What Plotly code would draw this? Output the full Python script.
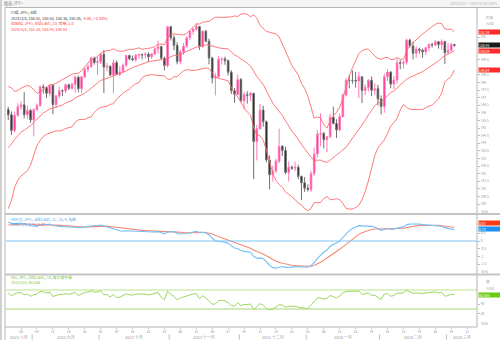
import pandas as pd
import plotly.graph_objects as go

# ---------------------------------------------------------------
# USD/JPY daily bars (Bid), 2023-08-22 .. 2024-03-05
# ---------------------------------------------------------------
dates = pd.bdate_range("2023-08-22", "2024-03-05")

open_ = [
    146.22, 145.88, 144.84, 145.84, 146.41, 146.53, 145.88, 146.16,
    145.54, 146.22, 146.49, 147.72, 147.67, 147.29, 147.82, 146.56, 147.12, 147.46, 147.45,
    147.85, 147.62, 147.87, 148.35, 147.60, 148.38, 148.88, 149.06, 149.62, 149.32,
    149.37, 149.86, 149.02, 149.07, 148.50, 149.31, 148.54, 148.70, 149.14, 149.78, 149.57,
    149.50, 149.80, 149.85, 149.82, 149.87, 149.70, 149.88, 150.22, 150.37, 149.60, 149.12,
    151.68, 150.95, 150.45, 149.38, 150.03, 150.40, 150.95, 151.36, 151.52, 151.69, 150.38,
    151.38, 150.72, 149.62, 148.30, 148.38, 149.54, 149.56, 149.44, 148.68, 147.46, 147.22,
    148.20, 146.80, 147.20, 147.16, 147.29, 144.11, 144.95, 146.19, 145.42, 142.90, 141.92,
    142.17, 142.83, 143.80, 143.53, 142.08, 142.42, 142.36, 142.42, 141.82, 141.40,
    141.04, 140.95, 142.01, 143.30, 144.60, 144.64, 144.24, 144.43, 145.72, 145.30, 144.88,
    145.76, 147.18, 148.15, 148.14, 148.14, 148.10, 148.38, 147.48, 147.67, 148.15, 147.49,
    147.60,
    146.92, 146.42, 148.38, 148.69, 147.90, 148.17, 149.30, 149.27, 149.35, 150.80, 150.41,
    149.93, 150.20, 150.13, 150.02, 150.30, 150.51, 150.48, 150.69, 150.50, 150.70,
    149.97, 150.12, 150.51,
]
high = [
    146.40, 146.10, 146.10, 146.64, 146.75, 147.37, 146.48, 146.27,
    146.30, 146.62, 147.80, 147.87, 147.74, 147.88, 147.87, 147.20, 147.74, 147.55, 147.94,
    147.92, 148.00, 148.47, 148.46, 148.43, 148.97, 149.18, 149.71, 149.71, 149.69,
    149.91, 150.16, 149.29, 149.14, 149.53, 149.46, 149.07, 149.26, 149.83, 149.85, 149.78,
    149.88, 149.90, 149.90, 150.00, 150.00, 149.95, 150.32, 150.77, 150.42, 149.70, 151.72,
    151.72, 151.12, 150.65, 150.17, 150.60, 151.05, 151.43, 151.60, 151.92, 151.72, 151.43,
    151.47, 150.90, 149.70, 148.62, 149.75, 149.66, 149.70, 149.51, 148.81, 147.64, 148.52,
    148.30, 147.38, 147.43, 147.39, 147.32, 145.22, 146.59, 146.47, 145.50, 143.20, 142.51,
    142.98, 144.96, 143.88, 143.77, 142.80, 142.54, 142.78, 142.59, 141.87, 141.78,
    141.30, 142.20, 143.72, 144.86, 145.98, 144.75, 144.46, 145.94, 146.41, 145.58, 145.97,
    147.28, 148.28, 148.51, 148.80, 148.70, 148.70, 148.40, 147.88, 148.22, 148.40, 147.96,
    147.85,
    147.15, 148.58, 148.89, 148.75, 148.44, 149.58, 149.48, 149.44, 150.89, 150.88, 150.70,
    150.39, 150.30, 150.25, 150.34, 150.58, 150.62, 150.80, 150.72, 150.84, 150.75,
    150.60, 150.61, 150.54,
]
low = [
    145.52, 144.54, 144.70, 145.74, 146.20, 145.64, 145.61, 145.34,
    144.45, 146.13, 146.42, 147.28, 146.99, 147.08, 145.91, 146.32, 146.96, 147.11, 147.29,
    147.50, 147.53, 147.33, 147.36, 147.33, 148.29, 148.67, 148.96, 149.18, 148.52,
    149.22, 147.31, 148.73, 148.45, 147.29, 148.52, 148.40, 148.68, 149.04, 149.47, 149.43,
    149.37, 149.57, 149.52, 149.58, 149.38, 149.55, 149.82, 149.90, 149.53, 148.80, 149.00,
    150.76, 150.13, 149.20, 149.20, 149.83, 150.30, 150.80, 151.15, 151.40, 150.15, 150.30,
    150.65, 149.20, 147.94, 147.15, 148.33, 149.18, 149.17, 148.46, 147.25, 146.67, 147.16,
    146.68, 146.23, 146.61, 146.78, 141.64, 142.87, 144.92, 145.09, 142.75, 140.97, 141.47,
    142.04, 142.68, 143.16, 141.96, 141.48, 142.24, 142.15, 141.63, 140.25, 140.80,
    140.82, 140.80, 141.85, 143.06, 143.80, 143.66, 143.42, 144.34, 145.26, 144.34, 144.80,
    145.70, 147.08, 147.62, 147.93, 147.67, 146.98, 146.65, 147.18, 147.40, 147.10, 147.20,
    146.49,
    145.90, 146.02, 148.10, 147.63, 147.57, 147.93, 148.88, 148.92, 149.18, 150.30, 149.53,
    149.63, 149.90, 149.63, 149.82, 150.07, 150.30, 150.38, 150.23, 150.15, 149.21,
    149.91, 150.05, 150.36,
]
close = [
    145.88, 144.84, 145.84, 146.41, 146.53, 145.88, 146.16, 145.54,
    146.22, 146.49, 147.72, 147.67, 147.29, 147.82, 146.56, 147.12, 147.46, 147.45, 147.85,
    147.62, 147.87, 148.35, 147.60, 148.38, 148.88, 149.06, 149.62, 149.32, 149.37,
    149.86, 149.02, 149.07, 148.50, 149.31, 148.54, 148.70, 149.14, 149.78, 149.57, 149.50,
    149.80, 149.85, 149.82, 149.87, 149.70, 149.88, 150.22, 150.37, 149.60, 149.12, 151.68,
    150.95, 150.45, 149.38, 150.03, 150.40, 150.95, 151.36, 151.52, 151.69, 150.38, 151.38,
    150.72, 149.62, 148.30, 148.38, 149.54, 149.56, 149.44, 148.68, 147.46, 147.22, 148.20,
    146.80, 147.20, 147.16, 147.29, 144.11, 144.95, 146.19, 145.42, 142.90, 141.92, 142.17,
    142.83, 143.80, 143.53, 142.08, 142.42, 142.36, 142.42, 141.82, 141.40, 141.04,
    140.95, 142.01, 143.30, 144.60, 144.64, 144.24, 144.43, 145.72, 145.30, 144.88, 145.76,
    147.18, 148.15, 148.14, 148.14, 148.10, 148.38, 147.48, 147.67, 148.15, 147.49, 147.60,
    146.92,
    146.42, 148.38, 148.69, 147.90, 148.17, 149.30, 149.27, 149.35, 150.80, 150.41, 149.93,
    150.20, 150.13, 150.02, 150.30, 150.51, 150.48, 150.69, 150.50, 150.70, 149.97,
    150.12, 150.51, 150.45,
]

# closes from 2023-06-01 .. 2023-08-21, only used to warm up the indicators
prior_close = [
    138.80, 139.95, 139.60, 139.60, 140.10, 139.00, 139.40, 139.60, 140.20, 140.00, 140.30,
    141.80, 141.90, 141.50, 141.90, 143.10, 143.70, 143.40, 144.00, 144.40, 144.80, 144.30,
    144.70, 144.50, 144.70, 144.10, 142.10, 141.30, 140.40, 138.50, 138.10, 138.80, 138.70,
    139.20, 139.70, 140.10, 141.80, 141.50, 140.90, 140.20, 139.40, 141.20, 142.30,
    143.30, 143.30, 142.60, 141.80, 142.50, 143.30, 143.80, 144.70, 144.90, 145.60, 145.60,
    146.40, 145.80, 145.40, 146.20,
]

assert len(dates) == len(open_) == len(high) == len(low) == len(close)

# value-axis labels (the ones sitting under the last-value boxes are left out)
price_ticks = [140, 140.5, 141, 141.5, 142, 142.5, 143, 143.5, 144, 144.5, 145, 145.5,
               146, 146.5, 147, 147.5, 148, 148.5, 149.5, 151]
macd_ticks = [-1.5, -1.0, -0.5, 0, 0.5]
rsi_ticks = [20, 40]
month_names = {
    (2023, 8): "2023 八月", (2023, 9): "2023 九月", (2023, 10): "2023 十月",
    (2023, 11): "2023 十一月", (2023, 12): "2023 十二月", (2024, 1): "2024 一月",
    (2024, 2): "2024 二月", (2024, 3): "2024 三月",
}

# ---------------------------------------------------------------
# indicators
# ---------------------------------------------------------------
n_prior = len(prior_close)
series = pd.Series(prior_close + close)

bb_mid = series.rolling(20).mean()
bb_sd = series.rolling(20).std(ddof=0)
bb_up = bb_mid + 2.0 * bb_sd
bb_lo = bb_mid - 2.0 * bb_sd

ema12 = series.ewm(span=12, adjust=False).mean()
ema26 = series.ewm(span=26, adjust=False).mean()
macd = ema12 - ema26
signal = macd.ewm(span=9, adjust=False).mean()

delta = series.diff()
gain = delta.clip(lower=0)
loss = -delta.clip(upper=0)
avg_gain = gain.ewm(alpha=1 / 14, adjust=False).mean()
avg_loss = loss.ewm(alpha=1 / 14, adjust=False).mean()
rsi = 100 - 100 / (1 + avg_gain / avg_loss)

bb_mid, bb_up, bb_lo = (s.iloc[n_prior:].values for s in (bb_mid, bb_up, bb_lo))
macd, signal, rsi = (s.iloc[n_prior:].values for s in (macd, signal, rsi))

# ---------------------------------------------------------------
# layout helpers (pixel -> paper for a 500x340 canvas)
# ---------------------------------------------------------------
W, H = 500, 340


def px(x):
    return x / W


def py(y):
    return 1 - y / H


FONT = "Noto Sans CJK SC, Noto Sans, sans-serif"
UP_FILL, UP_LINE = "#ff1c8a", "#ff78b8"
DN_FILL, DN_LINE = "#111111", "#707070"
BB_COL = "#ff6a6a"
MACD_COL, SIG_COL = "#74bff3", "#f58a78"
RSI_COL = "#9bd65c"

x_range = [pd.Timestamp("2023-08-21 07:00"), pd.Timestamp("2024-03-14 02:00")]
x_domain = [px(6), px(477)]

fig = go.Figure()

fig.add_trace(go.Candlestick(
    x=dates, open=open_, high=high, low=low, close=close,
    increasing=dict(line=dict(color=UP_LINE, width=1), fillcolor=UP_FILL),
    decreasing=dict(line=dict(color=DN_LINE, width=1), fillcolor=DN_FILL),
    whiskerwidth=0, xaxis="x", yaxis="y", hoverinfo="skip",
))
for band in (bb_up, bb_mid, bb_lo):
    fig.add_trace(go.Scatter(x=dates, y=band, mode="lines",
                             line=dict(color=BB_COL, width=0.9),
                             xaxis="x", yaxis="y", hoverinfo="skip"))

fig.add_trace(go.Scatter(x=dates, y=signal, mode="lines",
                         line=dict(color=SIG_COL, width=1.1), xaxis="x2", yaxis="y2"))
fig.add_trace(go.Scatter(x=dates, y=macd, mode="lines",
                         line=dict(color=MACD_COL, width=1.1), xaxis="x2", yaxis="y2"))
fig.add_trace(go.Scatter(x=dates, y=rsi, mode="lines",
                         line=dict(color=RSI_COL, width=1), xaxis="x3", yaxis="y3"))

breaks = [dict(bounds=["sat", "mon"])]
mondays = pd.date_range("2023-08-28", "2024-03-11", freq="W-MON")
common_x = dict(range=x_range, domain=x_domain, rangebreaks=breaks,
                showgrid=False, zeroline=False, showline=False, fixedrange=True)
axis_font = dict(size=3.3, color="#999999")
common_y = dict(side="right", ticks="outside", ticklen=2, tickcolor="#bbbbbb",
                tickfont=axis_font, showgrid=False, zeroline=False, fixedrange=True)

fig.update_layout(
    width=W, height=H, margin=dict(l=0, r=0, t=0, b=0),
    paper_bgcolor="white", plot_bgcolor="white", showlegend=False,
    font=dict(family=FONT, size=4, color="#999999"),
    xaxis=dict(**common_x, showticklabels=False, rangeslider=dict(visible=False)),
    xaxis2=dict(**common_x, showticklabels=False, matches="x", anchor="y2"),
    xaxis3=dict(**common_x, matches="x", anchor="y3",
                tickvals=list(mondays), ticktext=[d.strftime("%d") for d in mondays],
                ticks="outside", ticklen=1, tickcolor="#bbbbbb", ticklabelstandoff=0,
                tickfont=dict(size=3.3, color="#999999")),
    yaxis=dict(**common_y, domain=[py(213), py(12)], range=[139.407, 152.648], anchor="x",
               tickvals=price_ticks, ticktext=[f"{v:g}" for v in price_ticks]),
    yaxis2=dict(**common_y, domain=[py(274), py(215)], range=[-2.143, 1.688], anchor="x2",
                tickvals=macd_ticks, ticktext=[f"{v:g}" for v in macd_ticks]),
    yaxis3=dict(**common_y, domain=[py(327), py(275)], range=[-7.89, 101.58], anchor="x3",
                tickvals=rsi_ticks, ticktext=[str(v) for v in rsi_ticks]),
)

shapes = []
# header strip and frame
shapes.append(dict(type="rect", xref="paper", yref="paper", x0=0, x1=1, y0=py(7), y1=1,
                   fillcolor="#f5f5f5", line=dict(width=0), layer="below"))
shapes.append(dict(type="line", xref="paper", yref="paper", x0=px(5), x1=1, y0=py(7.5), y1=py(7.5),
                   line=dict(color="#b5b5b5", width=1)))
shapes.append(dict(type="line", xref="paper", yref="paper", x0=px(5), x1=px(5), y0=py(340), y1=py(7.5),
                   line=dict(color="#b5b5b5", width=1)))
shapes.append(dict(type="line", xref="paper", yref="paper", x0=px(1), x1=px(1), y0=0, y1=1,
                   line=dict(color="#d0d0d0", width=2)))
# right axis line
shapes.append(dict(type="line", xref="paper", yref="paper", x0=px(477), x1=px(477), y0=py(327), y1=py(7.5),
                   line=dict(color="#b5b5b5", width=1)))
# pane separators
for yy in (214, 274.5):
    shapes.append(dict(type="line", xref="paper", yref="paper", x0=px(5), x1=1, y0=py(yy), y1=py(yy),
                       line=dict(color="#c4c4c4", width=2)))
shapes.append(dict(type="line", xref="paper", yref="paper", x0=px(5), x1=px(477), y0=py(327), y1=py(327),
                   line=dict(color="#b5b5b5", width=1)))
# MACD zero line, RSI guide lines
shapes.append(dict(type="line", xref="x2 domain", yref="y2", x0=0, x1=1, y0=0, y1=0,
                   line=dict(color="#7fc3f5", width=1)))
shapes.append(dict(type="line", xref="x3 domain", yref="y3", x0=0, x1=1, y0=70, y1=70,
                   line=dict(color="#dcf2c6", width=2.2), layer="below"))
shapes.append(dict(type="line", xref="x3 domain", yref="y3", x0=0, x1=1, y0=30, y1=30,
                   line=dict(color="#a3d874", width=1)))

# month row: labels centred on each month's visible trading days, separators between months
axis_days = pd.bdate_range("2023-08-22", "2024-03-14")
annotations = []
months = sorted({(d.year, d.month) for d in axis_days})
for ym in months:
    days = [d for d in axis_days if (d.year, d.month) == ym]
    k = (len(days) - 1) / 2
    centre = days[int(k)] + pd.Timedelta(hours=12 if k % 1 else 0)
    annotations.append(dict(x=centre, y=py(337.2), xref="x", yref="paper", text=month_names[ym],
                            showarrow=False, font=dict(size=4.0, color="#999999"),
                            xanchor="center", yanchor="middle", borderpad=0))
    first_idx = list(axis_days).index(days[0])
    if first_idx > 0:
        sep = axis_days[first_idx - 1] + pd.Timedelta(hours=12)
        shapes.append(dict(type="line", xref="x", yref="paper", x0=sep, x1=sep,
                           y0=py(339.5), y1=py(334.5), line=dict(color="#bbbbbb", width=1)))


def text(x, y, s, color, size=3.8, anchor="left"):
    annotations.append(dict(x=px(x), y=py(y), xref="paper", yref="paper", text=s,
                            showarrow=False, xanchor=anchor, yanchor="middle", borderpad=0,
                            font=dict(size=size, color=color, family=FONT)))


def value_box(yref, value, label, bg, yshift=0):
    annotations.append(dict(x=px(478), y=value, xref="paper", yref=yref, text=label,
                            showarrow=False, xanchor="left", yanchor="middle", yshift=yshift,
                            bgcolor=bg, width=21, height=4.4, align="left", borderpad=0,
                            font=dict(size=3.4, color="white", family=FONT)))


# header
text(3, 3.6, "图表 JPY=", "#8c8c8c", size=4.2)
text(498, 4.0, "2023/8/22 - 2024/3/14 (GMT)", "#b0b0b0", size=3.6, anchor="right")

# price pane legend
o, h, l, c = open_[-1], high[-1], low[-1], close[-1]
chg = c - close[-2]
pct = chg / close[-2] * 100
day = f"{dates[-1].year}/{dates[-1].month}/{dates[-1].day}"
text(10, 13, "Cnd, JPY=, Bid", "#333333")
text(10, 18.5, f"{day}, {o:.2f}, {h:.2f}, {l:.2f}, {c:.2f}, "
     f"<span style='color:#ff3030'>{chg:.2f}, ({pct:.2f}%)</span>", "#333333")
text(10, 24, "Bband, JPY=, Bid(Last), 20, 简单, 2.0", "#ff3b3b")
text(10, 29.5, f"{day}, {bb_up[-1]:.2f}, {bb_mid[-1]:.2f}, {bb_lo[-1]:.2f}", "#ff3b3b")

# MACD pane legend
text(7, 219, "\u2514MACD, JPY=, Bid(Last), 12, 26, 9, 指数", "#4aa6ea")
text(10, 224, f"{day}, {macd[-1]:.2f}, <span style='color:#ff5a3c'>{signal[-1]:.2f}</span>", "#4aa6ea")

# RSI pane legend
text(10, 277, "RSI, JPY=, Bid(Last), 14, 威尔德平滑", "#7cc43a")
text(10, 282, f"{day}, {rsi[-1]:.3f}", "#7cc43a")

# unit captions on the value axis
text(485, 17, "价格", "#a0a0a0", size=3.6)
text(485, 23.5, "/USD", "#a0a0a0", size=3.4)
text(480, 211, "日元", "#a0a0a0", size=3.6)
text(480, 271, "日元", "#a0a0a0", size=3.6)
text(485, 281.5, "值", "#a0a0a0", size=3.6)
text(485, 288, "/USD", "#a0a0a0", size=3.4)
text(480, 323.5, "日元", "#a0a0a0", size=3.6)

# last-value boxes on the axis
value_box("y", bb_up[-1], f"{bb_up[-1]:.2f}", "#ff2a2a")
value_box("y", close[-1], f"{close[-1]:.2f}", "#1a1a1a")
value_box("y", bb_mid[-1], f"{bb_mid[-1]:.2f}", "#ff2a2a")
value_box("y", bb_lo[-1], f"{bb_lo[-1]:.2f}", "#ff2a2a")
value_box("y2", signal[-1], f"{signal[-1]:.2f}", "#ff3a14", yshift=5)
value_box("y2", macd[-1], f"{macd[-1]:.2f}", "#1e8ff0", yshift=1)
value_box("y3", rsi[-1], f"{rsi[-1]:.3f}", "#6ccc12")

fig.update_layout(shapes=shapes, annotations=annotations)
fig.write_html("out.html")
